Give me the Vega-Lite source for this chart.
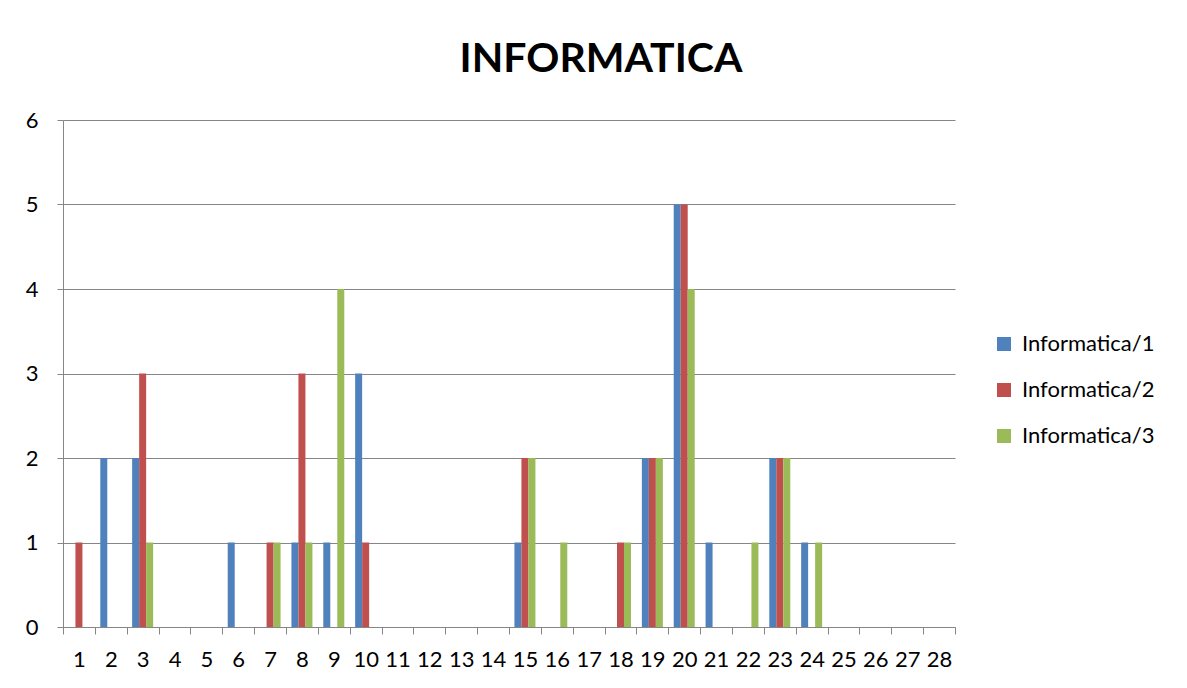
{
  "$schema": "https://vega.github.io/schema/vega-lite/v6.json",
  "width": 892,
  "height": 507,
  "autosize": {"type": "none"},
  "padding": {"left": 63, "top": 120, "right": 232, "bottom": 61},
  "background": "white",
  "title": {
    "text": "INFORMATICA",
    "font": "Lato",
    "fontSize": 41,
    "fontWeight": "bold",
    "color": "#000000",
    "anchor": "middle",
    "dx": 92,
    "offset": 28
  },
  "data": {
    "values": [
      {"cat": 1, "series": "Informatica/1", "value": 0}, {"cat": 1, "series": "Informatica/2", "value": 1}, {"cat": 1, "series": "Informatica/3", "value": 0},
      {"cat": 2, "series": "Informatica/1", "value": 2}, {"cat": 2, "series": "Informatica/2", "value": 0}, {"cat": 2, "series": "Informatica/3", "value": 0},
      {"cat": 3, "series": "Informatica/1", "value": 2}, {"cat": 3, "series": "Informatica/2", "value": 3}, {"cat": 3, "series": "Informatica/3", "value": 1},
      {"cat": 4, "series": "Informatica/1", "value": 0}, {"cat": 4, "series": "Informatica/2", "value": 0}, {"cat": 4, "series": "Informatica/3", "value": 0},
      {"cat": 5, "series": "Informatica/1", "value": 0}, {"cat": 5, "series": "Informatica/2", "value": 0}, {"cat": 5, "series": "Informatica/3", "value": 0},
      {"cat": 6, "series": "Informatica/1", "value": 1}, {"cat": 6, "series": "Informatica/2", "value": 0}, {"cat": 6, "series": "Informatica/3", "value": 0},
      {"cat": 7, "series": "Informatica/1", "value": 0}, {"cat": 7, "series": "Informatica/2", "value": 1}, {"cat": 7, "series": "Informatica/3", "value": 1},
      {"cat": 8, "series": "Informatica/1", "value": 1}, {"cat": 8, "series": "Informatica/2", "value": 3}, {"cat": 8, "series": "Informatica/3", "value": 1},
      {"cat": 9, "series": "Informatica/1", "value": 1}, {"cat": 9, "series": "Informatica/2", "value": 0}, {"cat": 9, "series": "Informatica/3", "value": 4},
      {"cat": 10, "series": "Informatica/1", "value": 3}, {"cat": 10, "series": "Informatica/2", "value": 1}, {"cat": 10, "series": "Informatica/3", "value": 0},
      {"cat": 11, "series": "Informatica/1", "value": 0}, {"cat": 11, "series": "Informatica/2", "value": 0}, {"cat": 11, "series": "Informatica/3", "value": 0},
      {"cat": 12, "series": "Informatica/1", "value": 0}, {"cat": 12, "series": "Informatica/2", "value": 0}, {"cat": 12, "series": "Informatica/3", "value": 0},
      {"cat": 13, "series": "Informatica/1", "value": 0}, {"cat": 13, "series": "Informatica/2", "value": 0}, {"cat": 13, "series": "Informatica/3", "value": 0},
      {"cat": 14, "series": "Informatica/1", "value": 0}, {"cat": 14, "series": "Informatica/2", "value": 0}, {"cat": 14, "series": "Informatica/3", "value": 0},
      {"cat": 15, "series": "Informatica/1", "value": 1}, {"cat": 15, "series": "Informatica/2", "value": 2}, {"cat": 15, "series": "Informatica/3", "value": 2},
      {"cat": 16, "series": "Informatica/1", "value": 0}, {"cat": 16, "series": "Informatica/2", "value": 0}, {"cat": 16, "series": "Informatica/3", "value": 1},
      {"cat": 17, "series": "Informatica/1", "value": 0}, {"cat": 17, "series": "Informatica/2", "value": 0}, {"cat": 17, "series": "Informatica/3", "value": 0},
      {"cat": 18, "series": "Informatica/1", "value": 0}, {"cat": 18, "series": "Informatica/2", "value": 1}, {"cat": 18, "series": "Informatica/3", "value": 1},
      {"cat": 19, "series": "Informatica/1", "value": 2}, {"cat": 19, "series": "Informatica/2", "value": 2}, {"cat": 19, "series": "Informatica/3", "value": 2},
      {"cat": 20, "series": "Informatica/1", "value": 5}, {"cat": 20, "series": "Informatica/2", "value": 5}, {"cat": 20, "series": "Informatica/3", "value": 4},
      {"cat": 21, "series": "Informatica/1", "value": 1}, {"cat": 21, "series": "Informatica/2", "value": 0}, {"cat": 21, "series": "Informatica/3", "value": 0},
      {"cat": 22, "series": "Informatica/1", "value": 0}, {"cat": 22, "series": "Informatica/2", "value": 0}, {"cat": 22, "series": "Informatica/3", "value": 1},
      {"cat": 23, "series": "Informatica/1", "value": 2}, {"cat": 23, "series": "Informatica/2", "value": 2}, {"cat": 23, "series": "Informatica/3", "value": 2},
      {"cat": 24, "series": "Informatica/1", "value": 1}, {"cat": 24, "series": "Informatica/2", "value": 0}, {"cat": 24, "series": "Informatica/3", "value": 1},
      {"cat": 25, "series": "Informatica/1", "value": 0}, {"cat": 25, "series": "Informatica/2", "value": 0}, {"cat": 25, "series": "Informatica/3", "value": 0},
      {"cat": 26, "series": "Informatica/1", "value": 0}, {"cat": 26, "series": "Informatica/2", "value": 0}, {"cat": 26, "series": "Informatica/3", "value": 0},
      {"cat": 27, "series": "Informatica/1", "value": 0}, {"cat": 27, "series": "Informatica/2", "value": 0}, {"cat": 27, "series": "Informatica/3", "value": 0},
      {"cat": 28, "series": "Informatica/1", "value": 0}, {"cat": 28, "series": "Informatica/2", "value": 0}, {"cat": 28, "series": "Informatica/3", "value": 0}
    ]
  },
  "mark": {"type": "bar"},
  "encoding": {
    "x": {
      "field": "cat",
      "type": "ordinal",
      "sort": "ascending",
      "scale": {"paddingInner": 0, "paddingOuter": 0},
      "axis": {
        "title": null,
        "labelAngle": 0,
        "labelFont": "Lato",
        "labelFontSize": 22,
        "labelColor": "#000000",
        "labelPadding": 15,
        "tickBand": "extent",
        "tickSize": 7,
        "tickColor": "#868686",
        "domainColor": "#868686",
        "grid": false
      }
    },
    "xOffset": {
      "field": "series",
      "type": "nominal",
      "scale": {"paddingInner": 0, "paddingOuter": 0.776}
    },
    "y": {
      "field": "value",
      "type": "quantitative",
      "scale": {"domain": [0, 6], "nice": false},
      "axis": {
        "title": null,
        "values": [0, 1, 2, 3, 4, 5, 6],
        "format": "d",
        "labelFont": "Lato",
        "labelFontSize": 22,
        "labelColor": "#000000",
        "labelPadding": 19,
        "tickSize": 6,
        "tickColor": "#868686",
        "domainColor": "#868686",
        "gridColor": "#868686",
        "gridWidth": 1
      }
    },
    "color": {
      "field": "series",
      "type": "nominal",
      "scale": {
        "domain": ["Informatica/1", "Informatica/2", "Informatica/3"],
        "range": ["#4F81BD", "#C0504D", "#9BBB59"]
      },
      "legend": {
        "title": null,
        "orient": "none",
        "legendX": 930,
        "legendY": 213,
        "symbolType": "square",
        "symbolSize": 196,
        "symbolStrokeWidth": 0,
        "labelFont": "Lato",
        "labelFontSize": 22,
        "labelColor": "#000000",
        "rowPadding": 24,
        "labelOffset": 7
      }
    }
  },
  "config": {
    "view": {"stroke": null}
  }
}
